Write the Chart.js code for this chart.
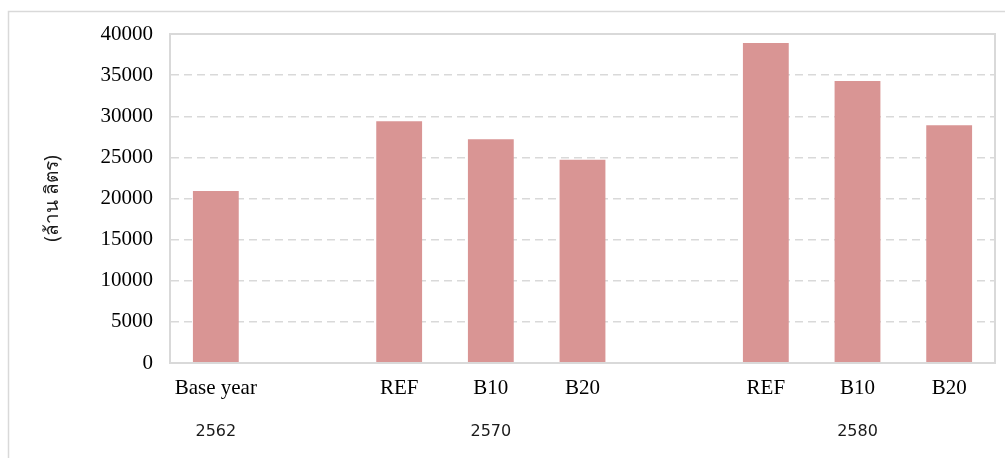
<!DOCTYPE html>
<html>
<head>
<meta charset="utf-8">
<script src="https://cdn.jsdelivr.net/npm/chart.js@4/dist/chart.umd.min.js"></script>
<style>
  html, body { margin: 0; padding: 0; background: #fff; }
  #wrap { width: 1005px; height: 458px; position: relative; }
</style>
</head>
<body>
<div id="wrap"><canvas id="c" width="1005" height="458"></canvas></div>
<script>
// Scenario categories (blank slots separate the year groups)
const categories = ['Base year', '', 'REF', 'B10', 'B20', '', 'REF', 'B10', 'B20'];
// Diesel demand, million litres
const demand = [20900, null, 29400, 27200, 24700, null, 38900, 34300, 28900];
// Year groups written under the scenario labels, centred on a category slot
const groupYears = ['2562', '2570', '2580'];
const groupCentre = [0, 3, 7];
const yTicks = [0, 5000, 10000, 15000, 20000, 25000, 30000, 35000, 40000];

const frameColor = '#d9d9d9';

const framePlugin = {
  id: 'frame',
  beforeDraw(chart) {
    const ctx = chart.ctx;
    ctx.save();
    ctx.fillStyle = '#fff';
    ctx.fillRect(0, 0, chart.width, chart.height);
    ctx.strokeStyle = frameColor;
    ctx.lineWidth = 1.5;
    ctx.strokeRect(8.5, 11.5, chart.width + 20, chart.height + 20);
    ctx.restore();
  },
  afterDraw(chart) {
    const ctx = chart.ctx;
    const a = chart.chartArea;
    const x = chart.scales.x;
    ctx.save();
    ctx.strokeStyle = frameColor;
    ctx.lineWidth = 2;
    ctx.strokeRect(a.left, a.top, a.right - a.left, a.bottom - a.top);
    ctx.fillStyle = '#1a1a1a';
    ctx.font = '16px "DejaVu Sans", sans-serif';
    ctx.textAlign = 'center';
    ctx.textBaseline = 'middle';
    groupYears.forEach((yr, i) => {
      ctx.fillText(yr, x.getPixelForValue(groupCentre[i]), 432);
    });
    ctx.restore();
  }
};

new Chart(document.getElementById('c'), {
  type: 'bar',
  data: {
    labels: categories,
    datasets: [{
      data: demand,
      backgroundColor: '#d99594',
      borderWidth: 0,
      barPercentage: 0.5,
      categoryPercentage: 1.0
    }]
  },
  options: {
    responsive: false,
    animation: false,
    layout: { padding: { top: 34, right: 10, bottom: 0, left: 0 } },
    plugins: {
      legend: { display: false },
      tooltip: { enabled: false }
    },
    scales: {
      x: {
        grid: { display: false, drawTicks: false },
        border: { color: frameColor, width: 2 },
        ticks: {
          color: '#000',
          padding: 13,
          maxRotation: 0,
          autoSkip: false,
          font: { family: '"Liberation Serif", "Times New Roman", serif', size: 21 }
        },
        afterFit(scale) { scale.height = 95; }
      },
      y: {
        min: 0,
        max: 40000,
        afterBuildTicks(scale) { scale.ticks = yTicks.map(v => ({ value: v })); },
        grid: {
          color: frameColor,
          lineWidth: 1.5,
          drawTicks: false
        },
        border: { color: frameColor, width: 2, dash: [8, 5] },
        ticks: {
          color: '#000',
          padding: 17,
          callback: v => String(v),
          font: { family: '"Liberation Serif", "Times New Roman", serif', size: 21 }
        },
        title: {
          display: true,
          text: '(ล้าน ลิตร)',
          color: '#1a1a1a',
          padding: { top: 41, bottom: 0 },
          font: { family: 'Tahoma, "Noto Sans", "DejaVu Sans", sans-serif', size: 19 }
        },
        afterFit(scale) { scale.width = 170; }
      }
    }
  },
  plugins: [framePlugin]
});
</script>
</body>
</html>
